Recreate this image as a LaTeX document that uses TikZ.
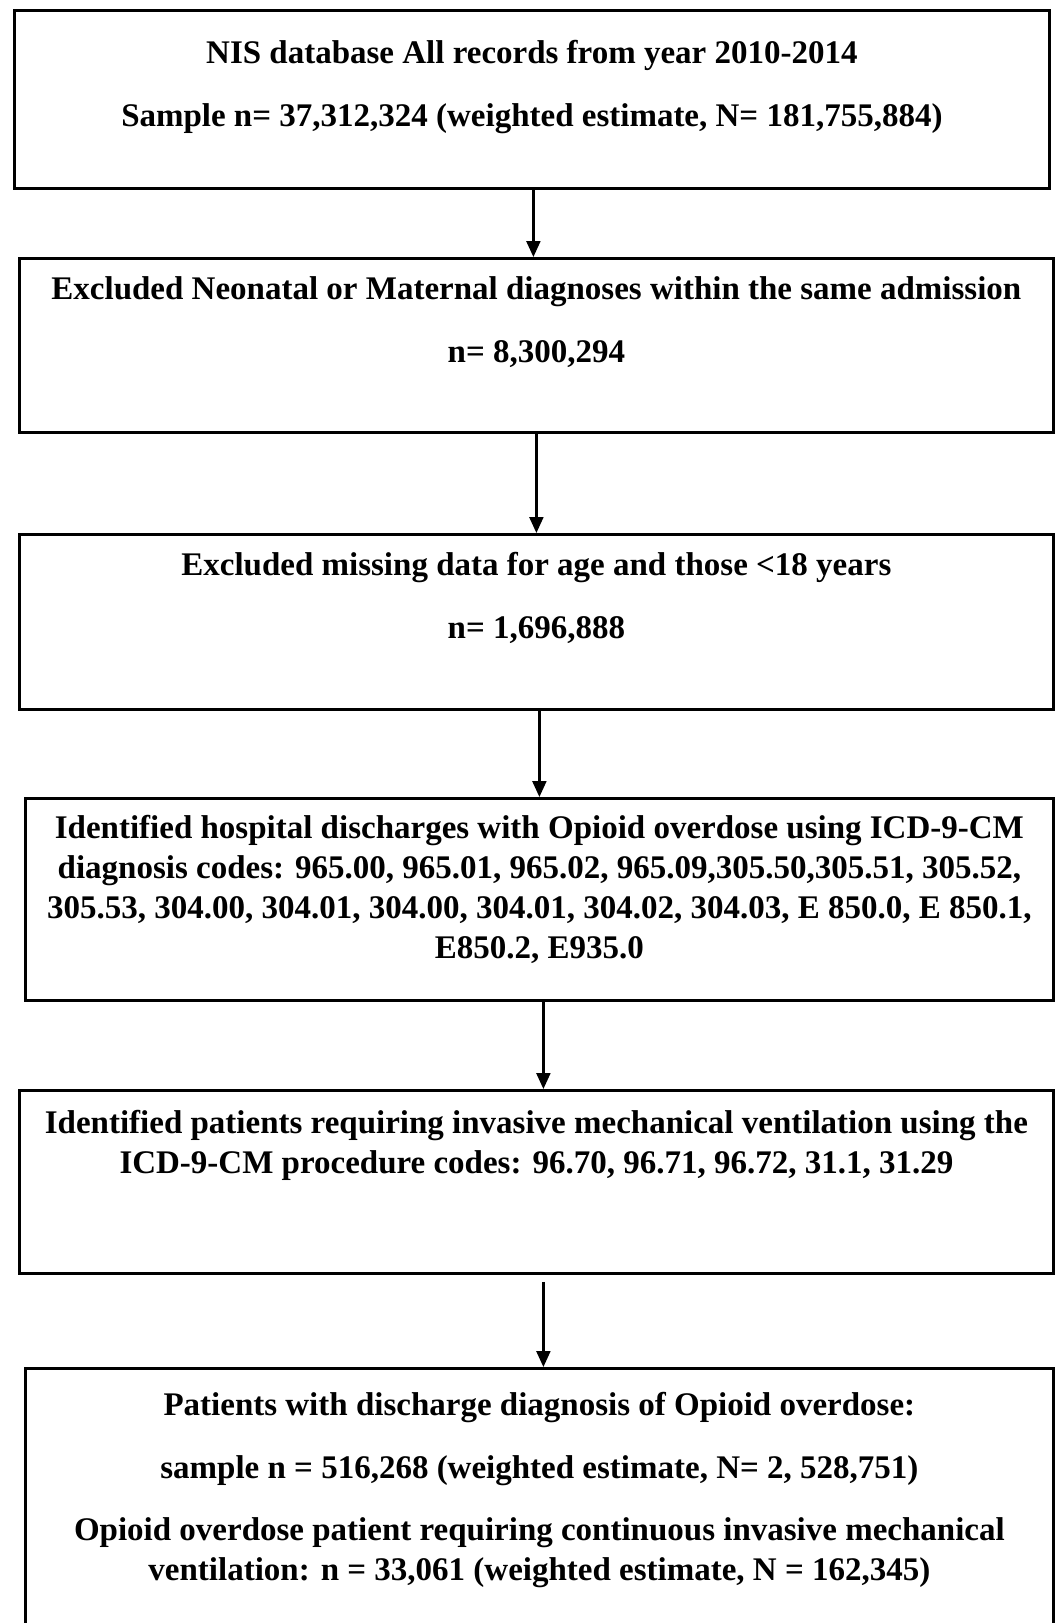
\documentclass[tikz,border=0pt]{standalone}
\usepackage{fontspec}
\setmainfont{Liberation Serif}
\usetikzlibrary{arrows.meta}
\tikzset{
    flowbox/.style={draw, line width=1.4pt, inner sep=0pt, anchor=north west,
        font=\bfseries\fontsize{16.5}{20}\selectfont},
    flowarrow/.style={-{Triangle[length=8pt,width=7pt]}, line width=1.1pt}
}
\begin{document}
\begin{tikzpicture}[x=0.5pt,y=-0.5pt]
        \useasboundingbox (0,0) rectangle (1055,1623);
        \node[flowbox] (nis) at (13,9) {\parbox[c][89pt][t]{517.5pt}{\centering\vspace*{15pt}
            NIS database All records from year 2010-2014\\[11.5pt]
            Sample n= 37,312,324 (weighted estimate, N= 181,755,884)}};
        \node[flowbox] (neonatal) at (18,257) {\parbox[c][87pt][t]{517pt}{\centering\vspace*{9pt}
            Excluded Neonatal or Maternal diagnoses within the same admission\\[11.5pt]
            n= 8,300,294}};
        \node[flowbox] (age) at (18,533) {\parbox[c][87.5pt][t]{517pt}{\centering\vspace*{9pt}
            Excluded missing data for age and those <18 years\\[11.5pt]
            n= 1,696,888}};
        \node[flowbox] (opioid) at (24,797) {\parbox[c][101pt][t]{514pt}{\centering\vspace*{8.5pt}
            Identified hospital discharges with Opioid overdose using ICD-9-CM\\
            diagnosis codes: 965.00, 965.01, 965.02, 965.09,305.50,305.51, 305.52,\\
            305.53, 304.00, 304.01, 304.00, 304.01, 304.02, 304.03, E 850.0, E 850.1,\\
            E850.2, E935.0}};
        \node[flowbox] (vent) at (18,1089) {\parbox[c][91.5pt][t]{517pt}{\centering\vspace*{10pt}
            Identified patients requiring invasive mechanical ventilation using the\\
            ICD-9-CM procedure codes: 96.70, 96.71, 96.72, 31.1, 31.29}};
        \node[flowbox] (final) at (24,1367) {\parbox[c][140pt][t]{514pt}{\centering\vspace*{12pt}
            Patients with discharge diagnosis of Opioid overdose:\\[11.5pt]
            sample n = 516,268 (weighted estimate, N= 2, 528,751)\\[11pt]
            Opioid overdose patient requiring continuous invasive mechanical\\
            ventilation: n = 33,061 (weighted estimate, N = 162,345)}};
        % arrows between the steps
        \draw[flowarrow] ([xshift=0.75pt]nis.south) -- ([xshift=0.75pt]nis.south |- neonatal.north);
        \draw[flowarrow] (neonatal.south) -- (neonatal.south |- age.north);
        \draw[flowarrow] ([xshift=1.5pt]age.south) -- ([xshift=1.5pt]age.south |- opioid.north);
        \draw[flowarrow] ([xshift=2pt]opioid.south) -- ([xshift=2pt]opioid.south |- vent.north);
        \draw[flowarrow, shorten <=3.5pt] ([xshift=3.5pt]vent.south) -- ([xshift=3.5pt]vent.south |- final.north);
    \end{tikzpicture}
\end{document}
